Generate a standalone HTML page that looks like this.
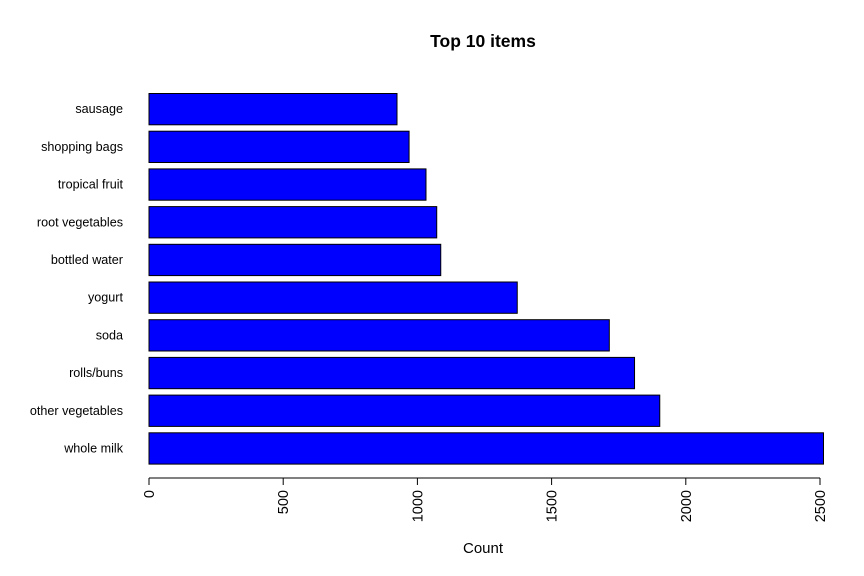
<!DOCTYPE html>
<html><head><meta charset="utf-8"><style>
html,body{margin:0;padding:0;background:#fff;}
svg{display:block;font-family:"Liberation Sans",Arial,sans-serif;}
</style></head><body>
<svg id="chart" width="864" height="576" viewBox="0 0 864 576">
<text x="483" y="47" text-anchor="middle" font-size="17.5" font-weight="bold">Top 10 items</text>
<text x="483" y="553" text-anchor="middle" font-size="15">Count</text>
<g id="bars"></g>
<g id="xaxis"></g>
<g id="ylabels"></g>
</svg>
<script>
const categories = ["sausage","shopping bags","tropical fruit","root vegetables","bottled water","yogurt","soda","rolls/buns","other vegetables","whole milk"];
const counts = [924,969,1032,1072,1087,1372,1715,1809,1903,2513];
const ticks = [0,500,1000,1500,2000,2500];
const NS="http://www.w3.org/2000/svg";
const x0=149, pxPer=671/2500;
const xs=v=>x0+v*pxPer;
const barTop=93.5, step=37.7, barH=31.3;
const bars=document.getElementById('bars'), yl=document.getElementById('ylabels'), xa=document.getElementById('xaxis');
categories.forEach((c,i)=>{
  const r=document.createElementNS(NS,'rect');
  r.setAttribute('x',xs(0));r.setAttribute('y',barTop+i*step);
  r.setAttribute('width',xs(counts[i])-xs(0));r.setAttribute('height',barH);
  r.setAttribute('fill','#0000ff');r.setAttribute('stroke','#000');r.setAttribute('stroke-width','1');
  
  
  bars.appendChild(r);
  const t=document.createElementNS(NS,'text');
  t.setAttribute('x',123);t.setAttribute('y',barTop+i*step+barH/2+4);
  t.setAttribute('text-anchor','end');t.setAttribute('font-size','12.6');
  t.textContent=c;
  
  
  yl.appendChild(t);
});
const axY=478;
const line=document.createElementNS(NS,'line');
line.setAttribute('x1',xs(ticks[0]));line.setAttribute('x2',xs(ticks[ticks.length-1]));
line.setAttribute('y1',axY);line.setAttribute('y2',axY);line.setAttribute('stroke','#000');


xa.appendChild(line);
ticks.forEach(v=>{
  const l=document.createElementNS(NS,'line');
  l.setAttribute('x1',xs(v));l.setAttribute('x2',xs(v));l.setAttribute('y1',axY);l.setAttribute('y2',axY+7);l.setAttribute('stroke','#000');
  
  
  xa.appendChild(l);
  const t=document.createElementNS(NS,'text');
  t.setAttribute('transform','translate('+(xs(v)+5)+','+(axY+12)+') rotate(-90)');
  t.setAttribute('text-anchor','end');t.setAttribute('font-size','14.5');
  t.textContent=v;
  
  
  xa.appendChild(t);
});
</script>
</body></html>
